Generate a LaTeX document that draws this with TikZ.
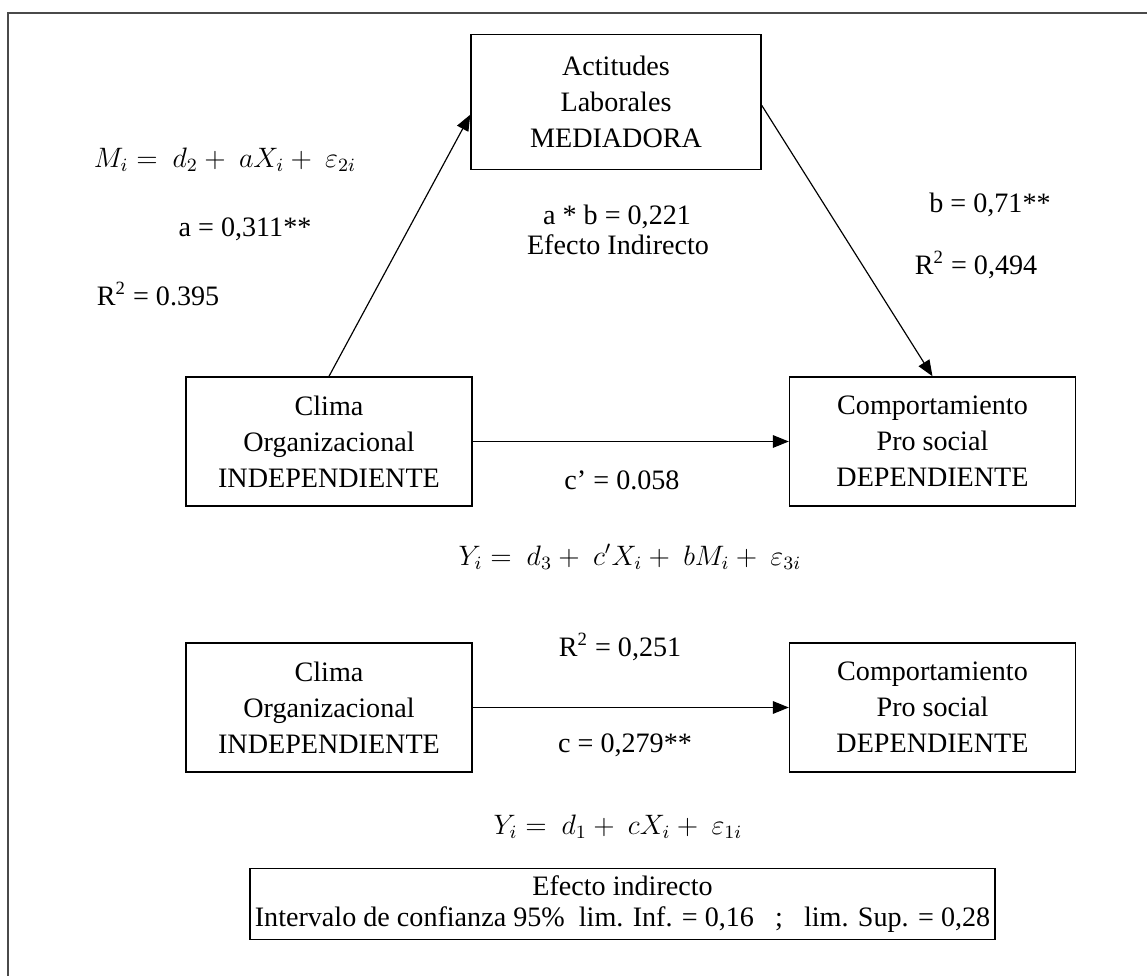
\documentclass[tikz,border=0pt]{standalone}
\usepackage{fontspec}
\setmainfont{Liberation Serif}
\usepackage{tikz}
\usetikzlibrary{arrows.meta,positioning}
\definecolor{framegray}{HTML}{4A4A4A}

\tikzset{
  varbox/.style={draw,line width=0.6pt,align=center,minimum width=4.29cm,minimum height=1.935cm},
  coef/.style={inner sep=1pt}
}

\begin{document}
\begin{tikzpicture}[x=0.015cm,y=-0.015cm,>={Triangle[length=0.24cm,width=0.19cm]},
    font=\fontsize{12}{15.3}\selectfont]
  \useasboundingbox (0,0) rectangle (1147,976);
  % outer frame (cut at the right and bottom)
  \draw[framegray,line width=0.9pt] (8,1000) -- (8,13) -- (1170,13);

  % mediation model
  \node[varbox,minimum width=4.35cm,minimum height=2.03cm] (med) at (616,102) {Actitudes\\Laborales\\MEDIADORA};
  \node[varbox] (indep) at (329,441.5) {Clima\\Organizacional\\INDEPENDIENTE};
  \node[varbox] (dep) at (932.5,441.5) {Comportamiento\\Pro social\\DEPENDIENTE};
  \draw[->,line width=0.5pt] (indep.north) -- ([yshift=-0.19cm]med.west);
  \draw[->,line width=0.5pt] ([yshift=-0.05cm]med.east) -- (dep.north);
  \draw[->,line width=0.5pt] (indep.east) -- (dep.west);

  \node[coef] (eqm) at (225,160) {$M_i =\ d_2 +\ aX_i +\ \varepsilon_{2i}$};
  \node[coef] (acoef) at (245,229) {a = 0,311**};
  \node[coef] (rmed) at (158,294) {R\textsuperscript{2} = 0.395};
  \node[coef] (ab) at (617,217) {a * b = 0,221};
  \node[coef] (indir) at (618,245) {Efecto Indirecto};
  \node[coef] (bcoef) at (990,205) {b = 0,71**};
  \node[coef] (rdep) at (976,265) {R\textsuperscript{2} = 0,494};
  \node[coef] (cprime) at (622,480) {c’ = 0.058};
  \node[coef] (eqy3) at (630,557) {$Y_i =\ d_3 +\ c'X_i +\ bM_i +\ \varepsilon_{3i}$};

  % total effect
  \node[varbox] (indep2) at (329,707.5) {Clima\\Organizacional\\INDEPENDIENTE};
  \node[varbox] (dep2) at (932.5,707.5) {Comportamiento\\Pro social\\DEPENDIENTE};
  \draw[->,line width=0.5pt] (indep2.east) -- (dep2.west);
  \node[coef] (rtot) at (620,647) {R\textsuperscript{2} = 0,251};
  \node[coef] (ccoef) at (625,745) {c = 0,279**};
  \node[coef] (eqy1) at (618,827) {$Y_i =\ d_1 +\ cX_i +\ \varepsilon_{1i}$};

  % confidence interval
  \node[draw,line width=0.6pt,align=center,inner xsep=2pt,inner ysep=3pt,minimum width=11.03cm,
    font=\fontsize{12}{13.5}\selectfont] (ci) at (622.5,904)
    {Efecto indirecto\\Intervalo de confianza 95\%~ lim. Inf. = 0,16 ~ ; ~ lim. Sup. = 0,28};
\end{tikzpicture}
\end{document}
